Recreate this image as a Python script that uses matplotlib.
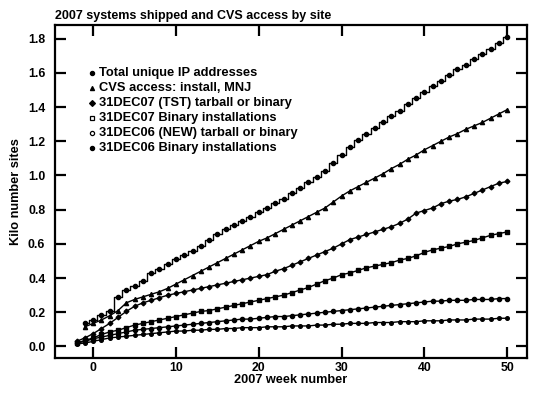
import matplotlib
matplotlib.use("Agg")
import matplotlib.pyplot as plt

plt.rcParams['font.family'] = ['Liberation Sans', 'DejaVu Sans']
plt.rcParams['font.weight'] = 'bold'

# weeks
weeks_a = list(range(-1, 51))   # first two series start at week -1
weeks_b = list(range(-2, 51))   # the other four start at week -2

# Total unique IP addresses
total_ip = [0.135, 0.155, 0.185, 0.21, 0.29, 0.33, 0.355, 0.38, 0.43, 0.455,
            0.48, 0.51, 0.535, 0.56, 0.59, 0.62, 0.655, 0.685, 0.71, 0.735,
            0.76, 0.785, 0.81, 0.84, 0.865, 0.895, 0.925, 0.96, 0.99, 1.025,
            1.075, 1.12, 1.165, 1.205, 1.24, 1.275, 1.31, 1.345, 1.38, 1.42,
            1.455, 1.49, 1.525, 1.555, 1.585, 1.62, 1.645, 1.68, 1.71, 1.74,
            1.775, 1.81]
# CVS access: install, MNJ
cvs = [0.115, 0.135, 0.155, 0.18, 0.21, 0.255, 0.275, 0.29, 0.305, 0.32,
       0.34, 0.365, 0.39, 0.415, 0.44, 0.465, 0.49, 0.515, 0.54, 0.565,
       0.59, 0.615, 0.635, 0.66, 0.685, 0.71, 0.735, 0.76, 0.785, 0.81,
       0.845, 0.88, 0.91, 0.935, 0.96, 0.985, 1.01, 1.04, 1.065, 1.095,
       1.12, 1.15, 1.175, 1.2, 1.225, 1.245, 1.27, 1.29, 1.31, 1.335,
       1.36, 1.385]
# 31DEC07 (TST) tarball or binary
tst07 = [0.03, 0.05, 0.075, 0.105, 0.135, 0.17, 0.205, 0.235, 0.255, 0.27,
         0.285, 0.30, 0.31, 0.32, 0.33, 0.34, 0.35, 0.36, 0.37, 0.38,
         0.39, 0.40, 0.41, 0.42, 0.44, 0.455, 0.475, 0.495, 0.515, 0.535,
         0.555, 0.575, 0.60, 0.625, 0.64, 0.655, 0.67, 0.685, 0.70, 0.72,
         0.745, 0.78, 0.795, 0.81, 0.835, 0.85, 0.86, 0.875, 0.895, 0.915,
         0.935, 0.955, 0.965]
# 31DEC07 Binary installations
bin07 = [0.02, 0.035, 0.05, 0.07, 0.085, 0.095, 0.11, 0.125, 0.135, 0.145,
         0.155, 0.165, 0.175, 0.185, 0.195, 0.205, 0.21, 0.22, 0.23, 0.24,
         0.25, 0.26, 0.27, 0.28, 0.29, 0.30, 0.315, 0.33, 0.345, 0.365,
         0.385, 0.40, 0.42, 0.43, 0.445, 0.46, 0.47, 0.48, 0.49, 0.505,
         0.515, 0.53, 0.55, 0.565, 0.575, 0.585, 0.60, 0.61, 0.62, 0.635,
         0.65, 0.66, 0.67]
# 31DEC06 (NEW) tarball or binary
new06 = [0.02, 0.03, 0.045, 0.055, 0.065, 0.075, 0.085, 0.095, 0.10, 0.105,
         0.11, 0.115, 0.12, 0.125, 0.13, 0.135, 0.14, 0.145, 0.15, 0.155,
         0.16, 0.16, 0.165, 0.17, 0.175, 0.175, 0.18, 0.185, 0.19, 0.195,
         0.20, 0.205, 0.21, 0.215, 0.22, 0.225, 0.23, 0.235, 0.24, 0.245,
         0.25, 0.255, 0.26, 0.265, 0.265, 0.27, 0.27, 0.27, 0.275, 0.275,
         0.275, 0.28, 0.28]
# 31DEC06 Binary installations
bin06 = [0.015, 0.02, 0.03, 0.04, 0.05, 0.055, 0.06, 0.065, 0.07, 0.075,
         0.08, 0.085, 0.09, 0.09, 0.095, 0.095, 0.10, 0.10, 0.105, 0.105,
         0.11, 0.11, 0.11, 0.115, 0.115, 0.115, 0.12, 0.12, 0.12, 0.125,
         0.125, 0.13, 0.13, 0.135, 0.135, 0.135, 0.14, 0.14, 0.14, 0.145,
         0.145, 0.145, 0.15, 0.15, 0.15, 0.155, 0.155, 0.155, 0.16, 0.16,
         0.16, 0.165, 0.165]

labels = ["Total unique IP addresses", "CVS access: install, MNJ",
          "31DEC07 (TST) tarball or binary", "31DEC07 Binary installations",
          "31DEC06 (NEW) tarball or binary", "31DEC06 Binary installations"]

fig = plt.figure(figsize=(5.4, 3.97), dpi=100)
ax = fig.add_axes([0.102, 0.098, 0.874, 0.839])

ms = 3.0
ax.plot(weeks_a, total_ip, color='black', lw=1, drawstyle='steps-mid')
ax.plot(weeks_a, total_ip, ls='none', color='black', marker='o', ms=ms)
ax.plot(weeks_a, cvs, color='black', lw=1, marker='^', ms=ms)
ax.plot(weeks_b, tst07, color='black', lw=1, marker='D', ms=ms - 0.6)
ax.plot(weeks_b, bin07, color='black', lw=1, marker='s', ms=ms - 0.4)
ax.plot(weeks_b, new06, color='black', lw=1, marker='o', ms=ms)
ax.plot(weeks_b, bin06, color='black', lw=1, marker='o', ms=ms - 0.4)

# legend drawn by hand: marker + label
leg_markers = [('o', 'black'), ('^', 'black'), ('D', 'black'),
               ('s', 'white'), ('o', 'white'), ('o', 'black')]
for i, (lab, (m, fc)) in enumerate(zip(labels, leg_markers)):
    yy = 0.856 - i * 0.045
    ax.plot([0.078], [yy], transform=ax.transAxes, marker=m, ms=3,
            mfc=fc, mec='black', mew=0.9, ls='none', clip_on=False)
    ax.text(0.093, yy, lab, transform=ax.transAxes, fontsize=9.3,
            fontweight='bold', va='center', ha='left')

ax.set_xlim(-4.6, 52.4)
ax.set_ylim(-0.068, 1.88)
ax.set_xticks([0, 10, 20, 30, 40, 50])
ax.set_yticks([0.0, 0.2, 0.4, 0.6, 0.8, 1.0, 1.2, 1.4, 1.6, 1.8])
ax.set_yticklabels([f"{v:.1f}" for v in ax.get_yticks()])
ax.tick_params(direction='in', length=8, width=1.6, top=True, right=True,
               labelsize=8.8)
ax.tick_params(axis='x', pad=3)
ax.tick_params(axis='y', pad=7)
for s in ax.spines.values():
    s.set_linewidth(1.6)

ax.set_xlabel("2007 week number", fontsize=9.2, fontweight='bold', labelpad=0)
ax.set_ylabel("Kilo number sites", fontsize=9.2, fontweight='bold', labelpad=4)
ax.set_title("2007 systems shipped and CVS access by site", fontsize=9,
             fontweight='bold', loc='left', pad=4)

fig.savefig("out.png", dpi=100)
